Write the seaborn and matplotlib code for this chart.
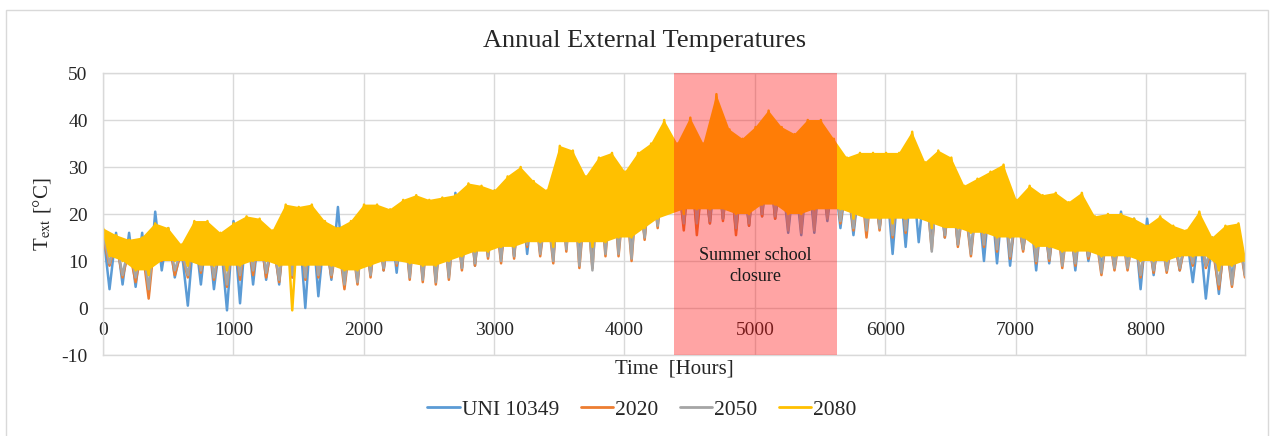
import numpy as np
import pandas as pd
import matplotlib
matplotlib.use("Agg")
import matplotlib.pyplot as plt
from matplotlib.patches import Rectangle
import seaborn as sns

# ---------------- data (100-hour bins: high / low per bin) ----------------
series_names = ["UNI 10349", "2020", "2050", "2080"]
series_colors = ["#5B9BD5", "#ED7D31", "#A5A5A5", "#FFC000"]

uni_high = [16.5, 16, 16, 16, 20.5, 17, 13, 17, 18, 15,
            18.5, 19, 18, 16, 20, 19, 20, 17, 21.5, 17,
            20, 21.5, 20, 21, 21, 22, 22, 24.5, 24, 22,
            25, 25, 26, 24, 22, 27, 26, 26.5, 27, 27,
            28, 27, 29, 33, 28, 30, 29, 31, 30, 29,
            31, 32, 29, 29, 30, 31, 30, 28, 28, 29,
            28, 29, 30, 28, 27, 27, 24, 25, 26, 25,
            22, 22, 23, 22, 21, 21, 18, 19, 20.5, 19,
            19, 19, 17, 16, 17, 15, 17, 17]
uni_low = [4, 5, 4.5, 3, 8, 6.5, 0.5, 5, 4, -0.5,
           1, 5, 6, 5, 6.5, 0, 2.5, 6, 5, 6,
           7, 8, 7.5, 7, 6.5, 6, 7, 8.5, 9, 11.5,
           10.5, 11, 11.5, 12, 11, 13, 13, 12, 12.5, 13,
           12.5, 15, 17.5, 21, 17.5, 17, 18, 19, 16.5, 17.5,
           19.5, 19, 16, 15.5, 16, 18.5, 17, 15.5, 17, 17,
           11.5, 13, 14, 14, 15, 13.5, 12, 10, 9.5, 9,
           12.5, 8, 9.5, 10, 8, 10, 8.5, 8.5, 9, 4,
           7, 8, 8, 5.5, 2, 3, 6, 7]

y2020_high = [15, 14, 12.5, 13, 16, 15, 12, 16, 16, 14,
              16, 17, 16.5, 14.5, 18.5, 19, 19.5, 16, 15, 16,
              19.5, 19.5, 18.5, 20.5, 21, 20.5, 21, 21, 23, 22.5,
              22, 24.5, 26, 24, 22, 29.5, 29, 24.5, 28, 28.5,
              26, 28.5, 30, 34, 30, 34, 30, 37.5, 32, 31,
              33, 35, 32.5, 32, 34, 34, 31, 28, 29, 29,
              29, 29, 32, 27.5, 29.5, 28, 23, 24.5, 25.5, 26.5,
              21, 23, 21.5, 21.5, 20, 21.5, 17, 17.5, 17.5, 17,
              16, 17, 15.5, 15, 17.5, 13, 15, 15.5]
y2020_low = [9, 6.5, 5.5, 2, 10, 7, 6.5, 7.5, 6, 4.5,
             6, 7, 6.5, 5.5, 6.5, 6, 6.5, 6.5, 4, 5,
             6.5, 8, 9, 6, 5.5, 5, 6, 8, 9, 10.5,
             9.5, 10.5, 13, 11, 9.5, 12, 8.5, 8.5, 11, 11,
             10, 14.5, 17, 20.5, 16.5, 15.5, 18, 18.5, 15.5, 17.5,
             19.5, 19, 17.5, 17, 18, 19.5, 18, 16.5, 15, 16.5,
             15, 16, 19.5, 12.5, 15, 13, 11, 13, 12, 10.5,
             12, 9.5, 10, 8.5, 9, 10.5, 7, 8, 8, 6.5,
             7.5, 7.5, 8, 9, 8.5, 4, 4.5, 6.5]

y2050_high = [16, 14.5, 13.5, 14, 17, 16, 12.5, 17, 17, 15,
              17, 18, 17.5, 15, 20, 20, 20.5, 17, 16, 17,
              20.5, 20.5, 19.5, 21.5, 22, 21.5, 22, 22, 24.5, 24,
              23, 26, 27.5, 25, 23, 31.5, 30.5, 26, 29.5, 30,
              27, 30, 32, 36, 32, 36, 32, 40, 34, 32.5,
              34.5, 37.5, 34.5, 33.5, 36, 36, 32.5, 29.5, 30.5, 30.5,
              30.5, 30.5, 34, 29, 31, 29.5, 24.5, 25.5, 27, 28,
              22, 24, 22.5, 22.5, 21, 22.5, 18, 18.5, 18.5, 17.5,
              16.5, 18, 16.5, 15.5, 18.5, 14, 16, 16.5]
y2050_low = [9.5, 7, 6.5, 4, 10.5, 8, 7, 8, 6.5, 5,
             7, 8, 7.5, 6, 7, 6.5, 7, 7, 5, 5.5,
             7, 8.5, 9.5, 6.5, 6, 5.5, 6.5, 8.5, 9.5, 11,
             10, 11, 13.5, 11.5, 10, 12.5, 9, 8, 11.5, 11.5,
             10.5, 15, 17.5, 21, 18, 18, 18.5, 19, 17, 18,
             20, 19.5, 16.5, 16, 16.5, 19, 18.5, 17, 16.5, 17,
             15.5, 16.5, 20, 12, 15.5, 13.5, 11.5, 13.5, 12.5, 11,
             12.5, 10, 10.5, 9, 9.5, 11, 7.5, 8.5, 8.5, 7,
             8, 8, 8.5, 9.5, 9, 5, 5, 7]

y2080_high = [17, 15.5, 14.5, 15, 18, 17, 13.5, 18.5, 18.5, 16,
              18, 19.5, 19, 16.5, 22, 21.5, 22, 18.5, 17, 18.5,
              22, 22, 21, 23, 24, 23, 23.5, 24, 26.5, 26,
              25, 28, 30, 27, 25, 34.5, 33.5, 28, 32, 33,
              29, 33, 35, 40, 35, 40.5, 35, 45.5, 38, 36,
              38.5, 42, 38.5, 37, 40, 40, 36, 32, 33, 33,
              33, 33, 37.5, 31, 33.5, 32, 26, 27.5, 29, 30.5,
              23, 26, 24, 24.5, 22.5, 24.5, 19.5, 20, 20, 19,
              17.5, 19.5, 17.5, 16.5, 20.5, 15, 17.5, 18]
y2080_low = [11, 10, 8, 7, 12, 10, 9, 10, 9, 8,
             9, 10, 10, 9, -0.5, 9, 9.5, 9, 8, 8,
             9, 10, 11, 9.5, 9, 9, 10, 11, 12, 12,
             13, 13, 15, 14, 13, 15, 14, 13, 14, 15,
             15, 17, 19, 22, 20, 21, 21, 22, 20, 20,
             22, 22, 20, 20, 21, 22, 21, 19, 20, 19,
             18, 19, 22, 17, 18, 17, 16, 16, 15, 15,
             15, 13, 13, 12, 12, 13, 11, 11, 11, 10,
             10, 10, 11, 11, 12, 8, 9, 10]

closure_start = 4377
closure_end = 5631
closure_label = "Summer school\nclosure"
hours_in_year = 8760

x_ticks = [0, 1000, 2000, 3000, 4000, 5000, 6000, 7000, 8000]
y_ticks = [-10, 0, 10, 20, 30, 40, 50]

# ---------------- build long table ----------------
highs = [uni_high, y2020_high, y2050_high, y2080_high]
lows = [uni_low, y2020_low, y2050_low, y2080_low]
frames = []
for name, hi, lo in zip(series_names, highs, lows):
    vals = np.empty(2 * len(hi))
    vals[0::2] = hi
    vals[1::2] = lo
    hrs = np.linspace(0, hours_in_year, len(vals))
    frames.append(pd.DataFrame({"hour": hrs, "temp": vals, "series": name}))
df = pd.concat(frames, ignore_index=True)


def window_median(arr):
    """3-point running median of a list (edges repeated)."""
    a = np.asarray(arr, dtype=float)
    p = np.pad(a, 1, mode="edge")
    return np.median(np.vstack([p[:-2], p[1:-1], p[2:]]), axis=0)


# ---------------- plot ----------------
sns.set_style("whitegrid")
plt.rcParams["font.family"] = ["Liberation Serif", "DejaVu Serif"]
plt.rcParams["mathtext.fontset"] = "stix"
plt.rcParams["axes.unicode_minus"] = False

fig = plt.figure(figsize=(12.77, 4.36), dpi=100)
ax = fig.add_axes([103 / 1277, 81 / 436, 1142 / 1277, 282 / 436])

sns.lineplot(data=df, x="hour", y="temp", hue="series",
             hue_order=series_names, palette=series_colors,
             estimator=None, sort=False, linewidth=1.8, ax=ax)
for k in range(len(series_names)):
    ax.lines[k].set_zorder(2 + 0.1 * k)

# dense body of the top-most series (2080): through its highs and its
# typical lows; isolated cold dips remain as the thin line
top_name = series_names[-1]
sub = df[df["series"] == top_name]
hx = sub["hour"].values[0::2]
lx = sub["hour"].values[1::2]
top = sub["temp"].values[0::2]
bot = window_median(sub["temp"].values[1::2])
ax.fill(np.concatenate([hx, lx[::-1]]), np.concatenate([top, bot[::-1]]),
        color=series_colors[-1], lw=0, zorder=2.25)

ax.axvspan(closure_start, closure_end, color="#FF1010", alpha=0.38,
           lw=0, zorder=5)
ax.text((closure_start + closure_end) / 2, 9, closure_label,
        ha="center", va="center", fontsize=13, color="#1a1a1a",
        linespacing=1.3, zorder=6)

ax.set_xlim(0, hours_in_year)
ax.set_ylim(-10, 50)
ax.set_xticks(x_ticks)
ax.set_yticks(y_ticks)
grid_c = "#D9D9D9"
ax.grid(True, color=grid_c, linewidth=1.0, zorder=0)
ax.set_axisbelow(True)
for s in ax.spines.values():
    s.set_color(grid_c)
    s.set_linewidth(1.0)
ax.tick_params(axis="x", length=0, pad=-24, labelsize=14, colors="#262626")
ax.tick_params(axis="y", length=0, pad=11, labelsize=14, colors="#262626")

ax.set_xlabel("Time  [Hours]", fontsize=15, labelpad=3, color="#262626")
ax.set_ylabel(r"T$_{\rm ext}$ [°C]", fontsize=15, labelpad=6, color="#262626")
ax.set_title("Annual External Temperatures", fontsize=19, pad=19,
             color="#262626", x=0.474)

sns.move_legend(ax, "center", bbox_to_anchor=(0.472, -0.195), ncol=4,
                frameon=False, title=None, fontsize=15.5, handlelength=1.5,
                handletextpad=0.1, columnspacing=1.0)
for h in ax.get_legend().get_lines():
    h.set_linewidth(2)

fig.patches.append(Rectangle((6 / 1277, -0.01), 1262 / 1277, 0.987,
                             transform=fig.transFigure, fill=False,
                             edgecolor=grid_c, linewidth=1.0))

fig.savefig("out.png", dpi=100)
